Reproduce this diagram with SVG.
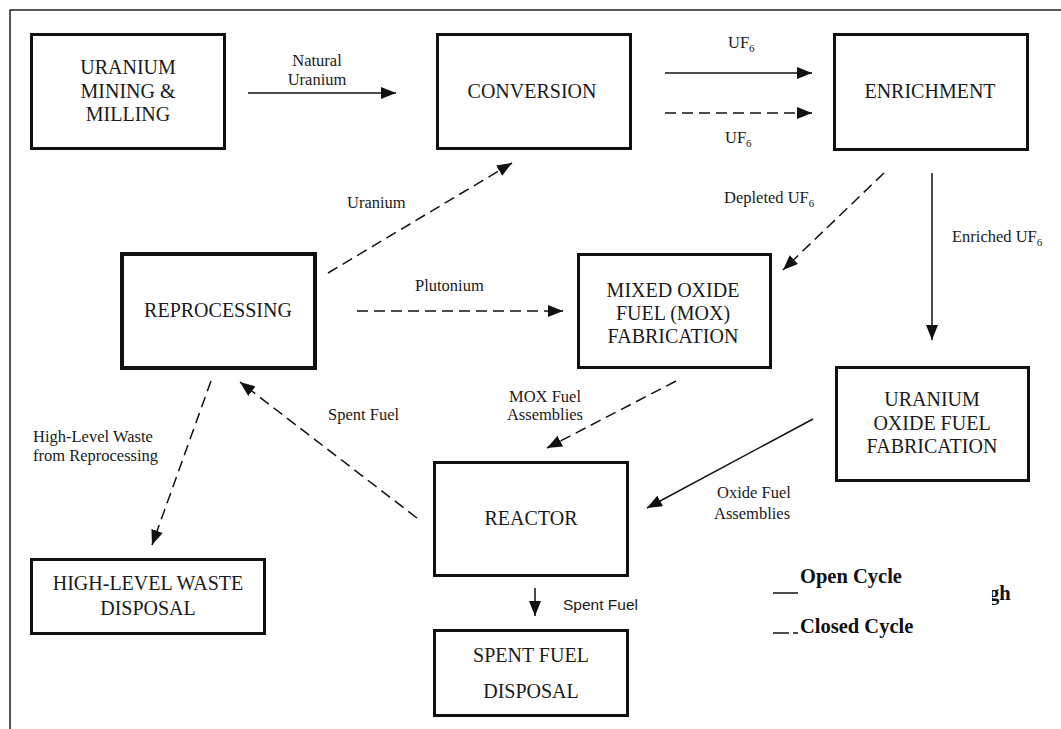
<svg xmlns="http://www.w3.org/2000/svg" width="1061" height="729" viewBox="0 0 1061 729">
  <style>
    .box { fill: #ffffff; stroke: #111111; stroke-width: 3; }
    .thick { stroke-width: 4; }
    .bt { font-family: "Liberation Serif", "Times New Roman", serif; font-size: 20px; fill: #1a1a1a; text-anchor: middle; }
    .lb { font-family: "Liberation Serif", "Times New Roman", serif; font-size: 16.5px; fill: #1a1a1a; }
    .sub { font-size: 11px; }
    .sans { font-family: "Liberation Sans", Arial, sans-serif; font-size: 15.5px; fill: #1a1a1a; }
    .lg { font-family: "Liberation Serif", "Times New Roman", serif; font-size: 20.5px; font-weight: bold; fill: #111111; }
    .solid { fill: none; stroke: #111111; stroke-width: 1.5; marker-end: url(#arrow); }
    .dash { fill: none; stroke: #111111; stroke-width: 1.5; stroke-dasharray: 11 6; marker-end: url(#arrow); }
  </style>
  <defs>
    <marker id="arrow" markerUnits="userSpaceOnUse" markerWidth="16" markerHeight="12" refX="15" refY="6" orient="auto">
      <path d="M0,0 L15,6 L0,12 z" fill="#111111"/>
    </marker>
  </defs>

  <!-- page background and frame -->
  <rect x="0" y="0" width="1061" height="729" fill="#ffffff"/>
  <path d="M10,729 V10 H1061" fill="none" stroke="#222222" stroke-width="1.5"/>

  <!-- nodes -->
  <g id="mining">
    <rect class="box" x="31.5" y="34.5" width="193" height="114"/>
    <text class="bt" x="128" y="74">URANIUM</text>
    <text class="bt" x="128" y="97.5">MINING &amp;</text>
    <text class="bt" x="128" y="121">MILLING</text>
  </g>
  <g id="conversion">
    <rect class="box" x="437.5" y="34.5" width="193" height="114"/>
    <text class="bt" x="532" y="98">CONVERSION</text>
  </g>
  <g id="enrichment">
    <rect class="box" x="834.5" y="34.5" width="193" height="115"/>
    <text class="bt" x="930" y="98">ENRICHMENT</text>
  </g>
  <g id="reprocessing">
    <rect class="box thick" x="122" y="254" width="193" height="114"/>
    <text class="bt" x="218" y="317">REPROCESSING</text>
  </g>
  <g id="mox">
    <rect class="box" x="578.5" y="254.5" width="192" height="113"/>
    <text class="bt" x="673" y="297">MIXED OXIDE</text>
    <text class="bt" x="673" y="320">FUEL (MOX)</text>
    <text class="bt" x="673" y="343">FABRICATION</text>
  </g>
  <g id="uo-fabrication">
    <rect class="box" x="836.5" y="367.5" width="192" height="113"/>
    <text class="bt" x="932" y="406">URANIUM</text>
    <text class="bt" x="932" y="430">OXIDE FUEL</text>
    <text class="bt" x="932" y="453">FABRICATION</text>
  </g>
  <g id="reactor">
    <rect class="box" x="434.5" y="462.5" width="193" height="113"/>
    <text class="bt" x="531" y="525">REACTOR</text>
  </g>
  <g id="hlw-disposal">
    <rect class="box" x="31.5" y="559.5" width="233" height="74"/>
    <text class="bt" x="148" y="590">HIGH-LEVEL WASTE</text>
    <text class="bt" x="148" y="615">DISPOSAL</text>
  </g>
  <g id="spent-fuel-disposal">
    <rect class="box" x="434.5" y="630.5" width="193" height="85"/>
    <text class="bt" x="531" y="662">SPENT FUEL</text>
    <text class="bt" x="531" y="698">DISPOSAL</text>
  </g>

  <!-- connectors -->
  <g id="connectors">
    <line class="solid" x1="248" y1="93" x2="396" y2="93"/>
    <line class="solid" x1="665" y1="73" x2="812" y2="73"/>
    <line class="dash" x1="665" y1="113" x2="812" y2="113"/>
    <line class="dash" x1="328" y1="273" x2="512" y2="163"/>
    <line class="dash" x1="357" y1="311" x2="563" y2="311"/>
    <line class="dash" x1="884" y1="173" x2="783" y2="270"/>
    <line class="solid" x1="932" y1="173" x2="932" y2="340"/>
    <line class="dash" x1="676" y1="381" x2="547" y2="448"/>
    <line class="solid" x1="813" y1="419" x2="647" y2="508"/>
    <line class="dash" x1="417" y1="518" x2="240" y2="382"/>
    <line class="dash" x1="211" y1="381" x2="152" y2="545"/>
    <line class="solid" x1="535" y1="588" x2="535" y2="616"/>
  </g>

  <!-- connector labels -->
  <g id="labels">
    <text class="lb" x="317" y="66" text-anchor="middle">Natural</text>
    <text class="lb" x="317" y="85" text-anchor="middle">Uranium</text>
    <text class="lb" x="728" y="48">UF<tspan class="sub" dy="4">6</tspan></text>
    <text class="lb" x="725" y="143">UF<tspan class="sub" dy="4">6</tspan></text>
    <text class="lb" x="347" y="208">Uranium</text>
    <text class="lb" x="415" y="291">Plutonium</text>
    <text class="lb" x="724" y="203">Depleted UF<tspan class="sub" dy="4">6</tspan></text>
    <text class="lb" x="952" y="242">Enriched UF<tspan class="sub" dy="4">6</tspan></text>
    <text class="lb" x="545" y="402" text-anchor="middle">MOX Fuel</text>
    <text class="lb" x="545" y="420" text-anchor="middle">Assemblies</text>
    <text class="lb" x="328" y="420">Spent Fuel</text>
    <text class="lb" x="33" y="442">High-Level Waste</text>
    <text class="lb" x="33" y="461">from Reprocessing</text>
    <text class="lb" x="717" y="498">Oxide Fuel</text>
    <text class="lb" x="714" y="519">Assemblies</text>
    <text class="sans" x="563" y="610">Spent Fuel</text>
  </g>

  <!-- legend -->
  <g id="legend">
    <text class="lg" x="989" y="600">gh</text>
    <rect x="798" y="562" width="194" height="96" fill="#ffffff"/>
    <line x1="773" y1="593" x2="798" y2="593" stroke="#111111" stroke-width="1.5"/>
    <line x1="773" y1="633" x2="789" y2="633" stroke="#111111" stroke-width="1.5"/>
    <line x1="793" y1="633" x2="798" y2="633" stroke="#111111" stroke-width="1.5"/>
    <text class="lg" x="800" y="583">Open Cycle</text>
    <text class="lg" x="800" y="633">Closed Cycle</text>
  </g>
</svg>
